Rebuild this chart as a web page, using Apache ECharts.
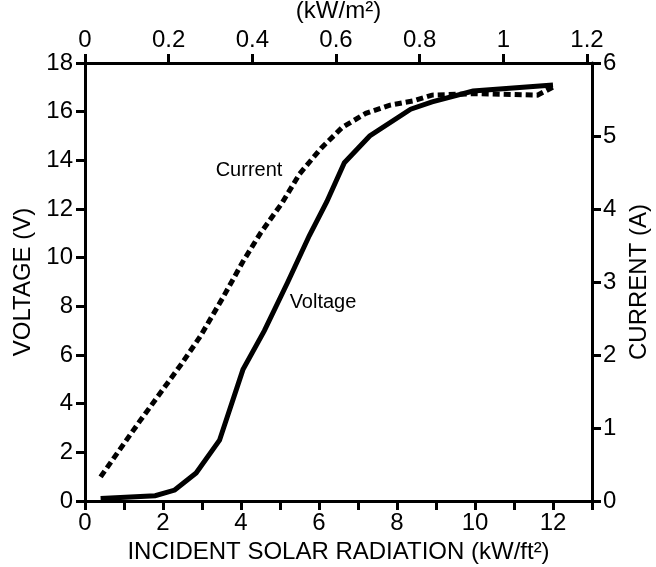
<!DOCTYPE html>
<html>
<head>
<meta charset="utf-8">
<script src="https://cdn.jsdelivr.net/npm/echarts@6/dist/echarts.min.js"></script>
<style>
  html, body { margin: 0; padding: 0; background: #fff; }
  #chart { width: 656px; height: 567px; }
</style>
</head>
<body>
<div id="chart"></div>
<script>
// Incident solar radiation (kW/ft²) at which each reading was taken
const voltageRadiation = [0.4, 1.8, 2.3, 2.85, 3.45, 4.05, 4.6, 5.2, 5.75, 6.2, 6.65, 7.3, 8.35, 8.9, 9.95, 12.0];
// Panel voltage (V)
const voltageValues = [0.1, 0.22, 0.45, 1.15, 2.5, 5.4, 7.0, 9.0, 10.9, 12.3, 13.9, 15.0, 16.1, 16.4, 16.85, 17.1];

const currentRadiation = [0.4, 1.4, 2.45, 2.95, 3.55, 4.05, 4.5, 5.05, 5.5, 6.05, 6.6, 7.2, 7.8, 8.4, 8.9, 9.95, 11.6, 12.0];
// Panel current (A)
const currentValues = [0.33, 1.09, 1.86, 2.25, 2.8, 3.28, 3.67, 4.08, 4.48, 4.83, 5.12, 5.31, 5.42, 5.48, 5.56, 5.58, 5.56, 5.67];

// Axis ticks and labels
const bottomTicks = [0, 1, 2, 3, 4, 5, 6, 7, 8, 9, 10, 11, 12, 13];
const bottomLabels = [0, 2, 4, 6, 8, 10, 12];
const topTicks = [0, 0.2, 0.4, 0.6, 0.8, 1, 1.2];

const FONT = '"Liberation Sans", Arial, sans-serif';
const axisLine = { show: true, onZero: false, lineStyle: { color: '#000', width: 3 } };
const axisTick = { show: true, inside: false, length: 9, lineStyle: { color: '#000', width: 3 } };
const labelStyle = { color: '#000', fontFamily: FONT, fontSize: 24 };
const nameStyle = { color: '#000', fontFamily: FONT, fontSize: 24 };

const zip = (xs, ys) => xs.map((x, i) => [x, ys[i]]);

const chart = echarts.init(document.getElementById('chart'), null, { renderer: 'canvas' });
chart.setOption({
  animation: false,
  backgroundColor: '#fff',
  grid: { left: 85, right: 64, top: 63, bottom: 66, containLabel: false, outerBoundsMode: 'none' },
  xAxis: [
    {
      type: 'value', position: 'bottom', min: 0, max: 13,
      name: 'INCIDENT SOLAR RADIATION (kW/ft²)', nameLocation: 'middle', nameGap: 36,
      nameTextStyle: nameStyle,
      axisLine: axisLine,
      axisTick: Object.assign({}, axisTick, { customValues: bottomTicks }),
      axisLabel: Object.assign({}, labelStyle, { margin: 10, customValues: bottomLabels }),
      splitLine: { show: false }
    },
    {
      type: 'value', position: 'top', min: 0, max: 1.212,
      name: '(kW/m²)', nameLocation: 'middle', nameGap: 33,
      nameTextStyle: nameStyle,
      axisLine: axisLine,
      axisTick: Object.assign({}, axisTick, { customValues: topTicks }),
      axisLabel: Object.assign({}, labelStyle, { margin: 11, customValues: topTicks }),
      splitLine: { show: false }
    }
  ],
  yAxis: [
    {
      type: 'value', position: 'left', min: 0, max: 18, interval: 2,
      name: 'VOLTAGE (V)', nameLocation: 'middle', nameGap: 38, nameRotate: 90,
      nameTextStyle: nameStyle,
      axisLine: axisLine, axisTick: axisTick,
      axisLabel: Object.assign({}, labelStyle, { margin: 12 }),
      splitLine: { show: false }
    },
    {
      type: 'value', position: 'right', min: 0, max: 6, interval: 1,
      name: 'CURRENT (A)', nameLocation: 'middle', nameGap: 27, nameRotate: 90,
      nameTextStyle: nameStyle,
      axisLine: axisLine, axisTick: axisTick,
      axisLabel: Object.assign({}, labelStyle, { margin: 11 }),
      splitLine: { show: false }
    }
  ],
  series: [
    {
      name: 'Voltage', type: 'line', xAxisIndex: 0, yAxisIndex: 0,
      data: zip(voltageRadiation, voltageValues),
      showSymbol: false, symbol: 'none',
      lineStyle: { color: '#000', width: 5, cap: 'butt', join: 'miter' }
    },
    {
      name: 'Current', type: 'line', xAxisIndex: 0, yAxisIndex: 1,
      data: zip(currentRadiation, currentValues),
      showSymbol: false, symbol: 'none',
      lineStyle: { color: '#000', width: 5, type: [7, 4], cap: 'butt', join: 'miter' }
    }
  ],
  graphic: [
    { type: 'text', x: 249, y: 170, style: { text: 'Current', fill: '#000', font: '20px ' + FONT, textAlign: 'center', textVerticalAlign: 'middle' } },
    { type: 'text', x: 323, y: 302, style: { text: 'Voltage', fill: '#000', font: '20px ' + FONT, textAlign: 'center', textVerticalAlign: 'middle' } }
  ]
});
</script>
</body>
</html>
